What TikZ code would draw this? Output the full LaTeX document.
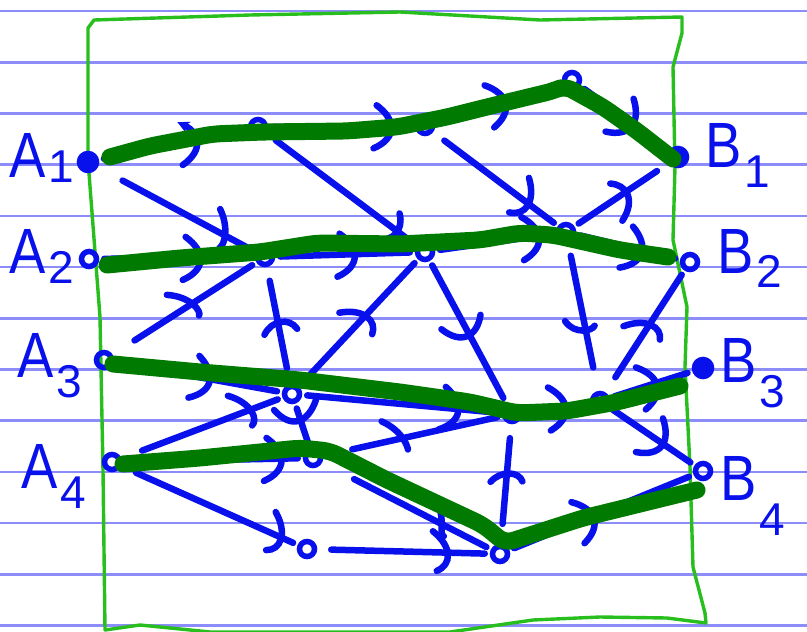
\documentclass[tikz,border=0pt]{standalone}
\usepackage{fontspec}
\setmainfont{Liberation Sans}
\usetikzlibrary{arrows.meta,decorations.markings}
\definecolor{inkblue}{RGB}{8,16,235}
\definecolor{routegreen}{RGB}{0,122,0}
\definecolor{framegreen}{RGB}{40,190,30}
\definecolor{ruling}{RGB}{140,140,250}
\newcommand{\plab}[3]{\scalebox{0.85}[1]{#1}\hspace{3pt}\raisebox{-#3pt}{\fontsize{46}{46}\selectfont #2}}
\begin{document}
\begin{tikzpicture}[x=1pt,y=-1pt,
  rule/.style={draw=ruling, line width=2.6pt},
  frameline/.style={draw=framegreen, line width=3.4pt, line join=round},
  pt/.style={circle, draw=inkblue, line width=5.5pt, minimum size=15pt, inner sep=0pt},
  ptf/.style={pt, fill=inkblue, minimum size=17pt},
  chev/.style={draw=inkblue, line width=6.5pt, line cap=round},
  flow/.style={draw=inkblue, line width=6.5pt, line cap=round, shorten <=5pt, shorten >=5pt,
    postaction={decorate, decoration={markings, mark=at position #1 with
      {\draw[chev] (-24pt,-24pt) .. controls (4pt,-12pt) and (4pt,6pt) .. (-20pt,24pt);}}}},
  flow/.default=0.6,
  routeline/.style={draw=routegreen, line width=17pt, line cap=round, line join=round, rounded corners=8pt},
  lab/.style={text=inkblue, font=\fontsize{64}{64}\selectfont, inner sep=0pt, anchor=base west}
]
\useasboundingbox (0,0) rectangle (807,632);
% ruled paper
\foreach \k in {0,...,12} \draw[rule] (0,{11+51.2*\k}) -- (807,{11+51.2*\k});
% green frame
\draw[frameline] (88,28) -- (94,20) -- (250,15) -- (400,12) -- (540,20) -- (682,17) -- (682,33) -- (673,67)
  -- (675,167) -- (673,240) -- (687,307) -- (685,367) -- (690,467) -- (693,567) -- (705,613) -- (706,623)
  -- (667,618) -- (600,617) -- (533,620) -- (450,632) -- (210,632) -- (140,625) -- (105,630)
  -- (103,470) -- (100,317) -- (88,160) -- cycle;
% nodes
\node[ptf] (A1) at (88,162) {};
\node[pt]  (A2) at (89,259) {};
\node[pt]  (A3) at (104,360) {};
\node[pt]  (A4) at (112,462) {};
\node[ptf] (B1) at (678,157) {};
\node[pt]  (B2) at (690,262) {};
\node[ptf] (B3) at (703,368) {};
\node[pt]  (B4) at (703,471) {};
\node[pt]  (T)  at (572,80) {};
\node[pt]  (n1) at (258,127) {};
\node[pt]  (n2) at (425,126) {};
\node[pt]  (n3) at (265,257) {};
\node[pt]  (n4) at (425,252) {};
\node[pt]  (n5) at (566,232) {};
\node[pt]  (n6) at (292,394) {};
\node[pt]  (n7) at (512,414) {};
\node[pt]  (n8) at (600,401) {};
\node[pt]  (n9) at (313,458) {};
\node[pt]  (n10) at (307,549) {};
\node[pt]  (n11) at (500,554) {};
% blue edges
\draw[flow=0.66, -{Stealth[length=12pt,width=12pt]}] (A1) -- (n1);
\draw[flow=0.85] (n1) -- (n2);
\draw[flow=0.56] (n2) -- (T);
\draw[flow=0.61] (T) -- (B1);
\draw[flow=0.8, shorten <=28pt] (A1) -- (n3);
\draw[flow=0.87, shorten <=12pt, shorten >=14pt] (n1) -- (n4);
\draw[flow=0.77, shorten <=14pt] (n2) -- (n5);
\draw[flow=0.55, shorten >=14pt] (n5) -- (B1);
\draw[flow=0.66] (A2) -- (n3);
\draw[flow=0.58] (n3) -- (n4);
\draw[flow=0.87] (n4) -- (n5);
\draw[flow=0.65] (n5) -- (B2);
\draw[flow=0.55, shorten <=26pt] (A3) -- (n3);
\draw[flow=0.52, shorten <=16pt, shorten >=14pt] (n6) -- (n3);
\draw[flow=0.56, shorten <=16pt] (n6) -- (n4);
\draw[flow=0.52, shorten >=8pt] (n4) -- (n7);
\draw[flow=0.58, shorten <=14pt, shorten >=24pt] (n5) -- (n8);
\draw[flow=0.56, shorten <=18pt] (n8) -- (B2);
\draw[flow=0.58] (A3) -- (n6);
\draw[flow=0.79] (n6) -- (n7);
\draw[flow=0.66] (n7) -- (n8);
\draw[flow=0.58] (n8) -- (B3);
\draw[flow=0.8, shorten <=22pt] (A4) -- (n6);
\draw[flow=0.4] (n6) -- (n9);
\draw[flow=0.44, shorten <=30pt] (n9) -- (n7);
\draw[flow=0.89] (A4) -- (n9);
\draw[flow=0.91, shorten <=16pt] (A4) -- (n10);
\draw[flow=0.76, shorten <=14pt] (n10) -- (n11);
\draw[flow=0.7, shorten <=36pt] (n9) -- (n11);
\draw[flow=0.58, shorten <=20pt, shorten >=14pt] (n11) -- (n7);
\draw[flow=0.46] (n11) -- (B4);
\draw[flow=0.65] (n8) -- (B4);
% highlighted green routes
\draw[routeline] (110,157) -- (150,146) -- (213,134) -- (263,132) -- (347,131) -- (397,127) -- (447,117)
  -- (487,107) -- (553,91) -- (565,86) -- (603,107) -- (637,131) -- (673,159);
\draw[routeline] (107,265) -- (180,258) -- (260,252) -- (317,243) -- (400,244) -- (480,240) -- (520,233)
  -- (553,235) -- (620,250) -- (668,257);
\draw[routeline] (113,364) -- (200,372) -- (300,380) -- (400,392) -- (470,402) -- (517,413) -- (567,411)
  -- (617,402) -- (680,386);
\draw[routeline] (123,464) -- (200,458) -- (300,448) -- (330,451) -- (387,480) -- (483,525) -- (505,543)
  -- (583,518) -- (697,490);
% labels
\node[lab] (LA1) at (9,177) {\plab{A}{1}{5}};
\node[lab] (LA2) at (9,273) {\plab{A}{2}{10}};
\node[lab] (LA3) at (17,377) {\plab{A}{3}{20}};
\node[lab] (LA4) at (21,488) {\plab{A}{4}{20}};
\node[lab] (LB1) at (705,167) {\plab{B}{1}{20}};
\node[lab] (LB2) at (717,273) {\plab{B}{2}{14}};
\node[lab] (LB3) at (720,382) {\plab{B}{3}{25}};
\node[lab] (LB4) at (720,500) {\plab{B}{4}{35}};
\end{tikzpicture}
\end{document}
